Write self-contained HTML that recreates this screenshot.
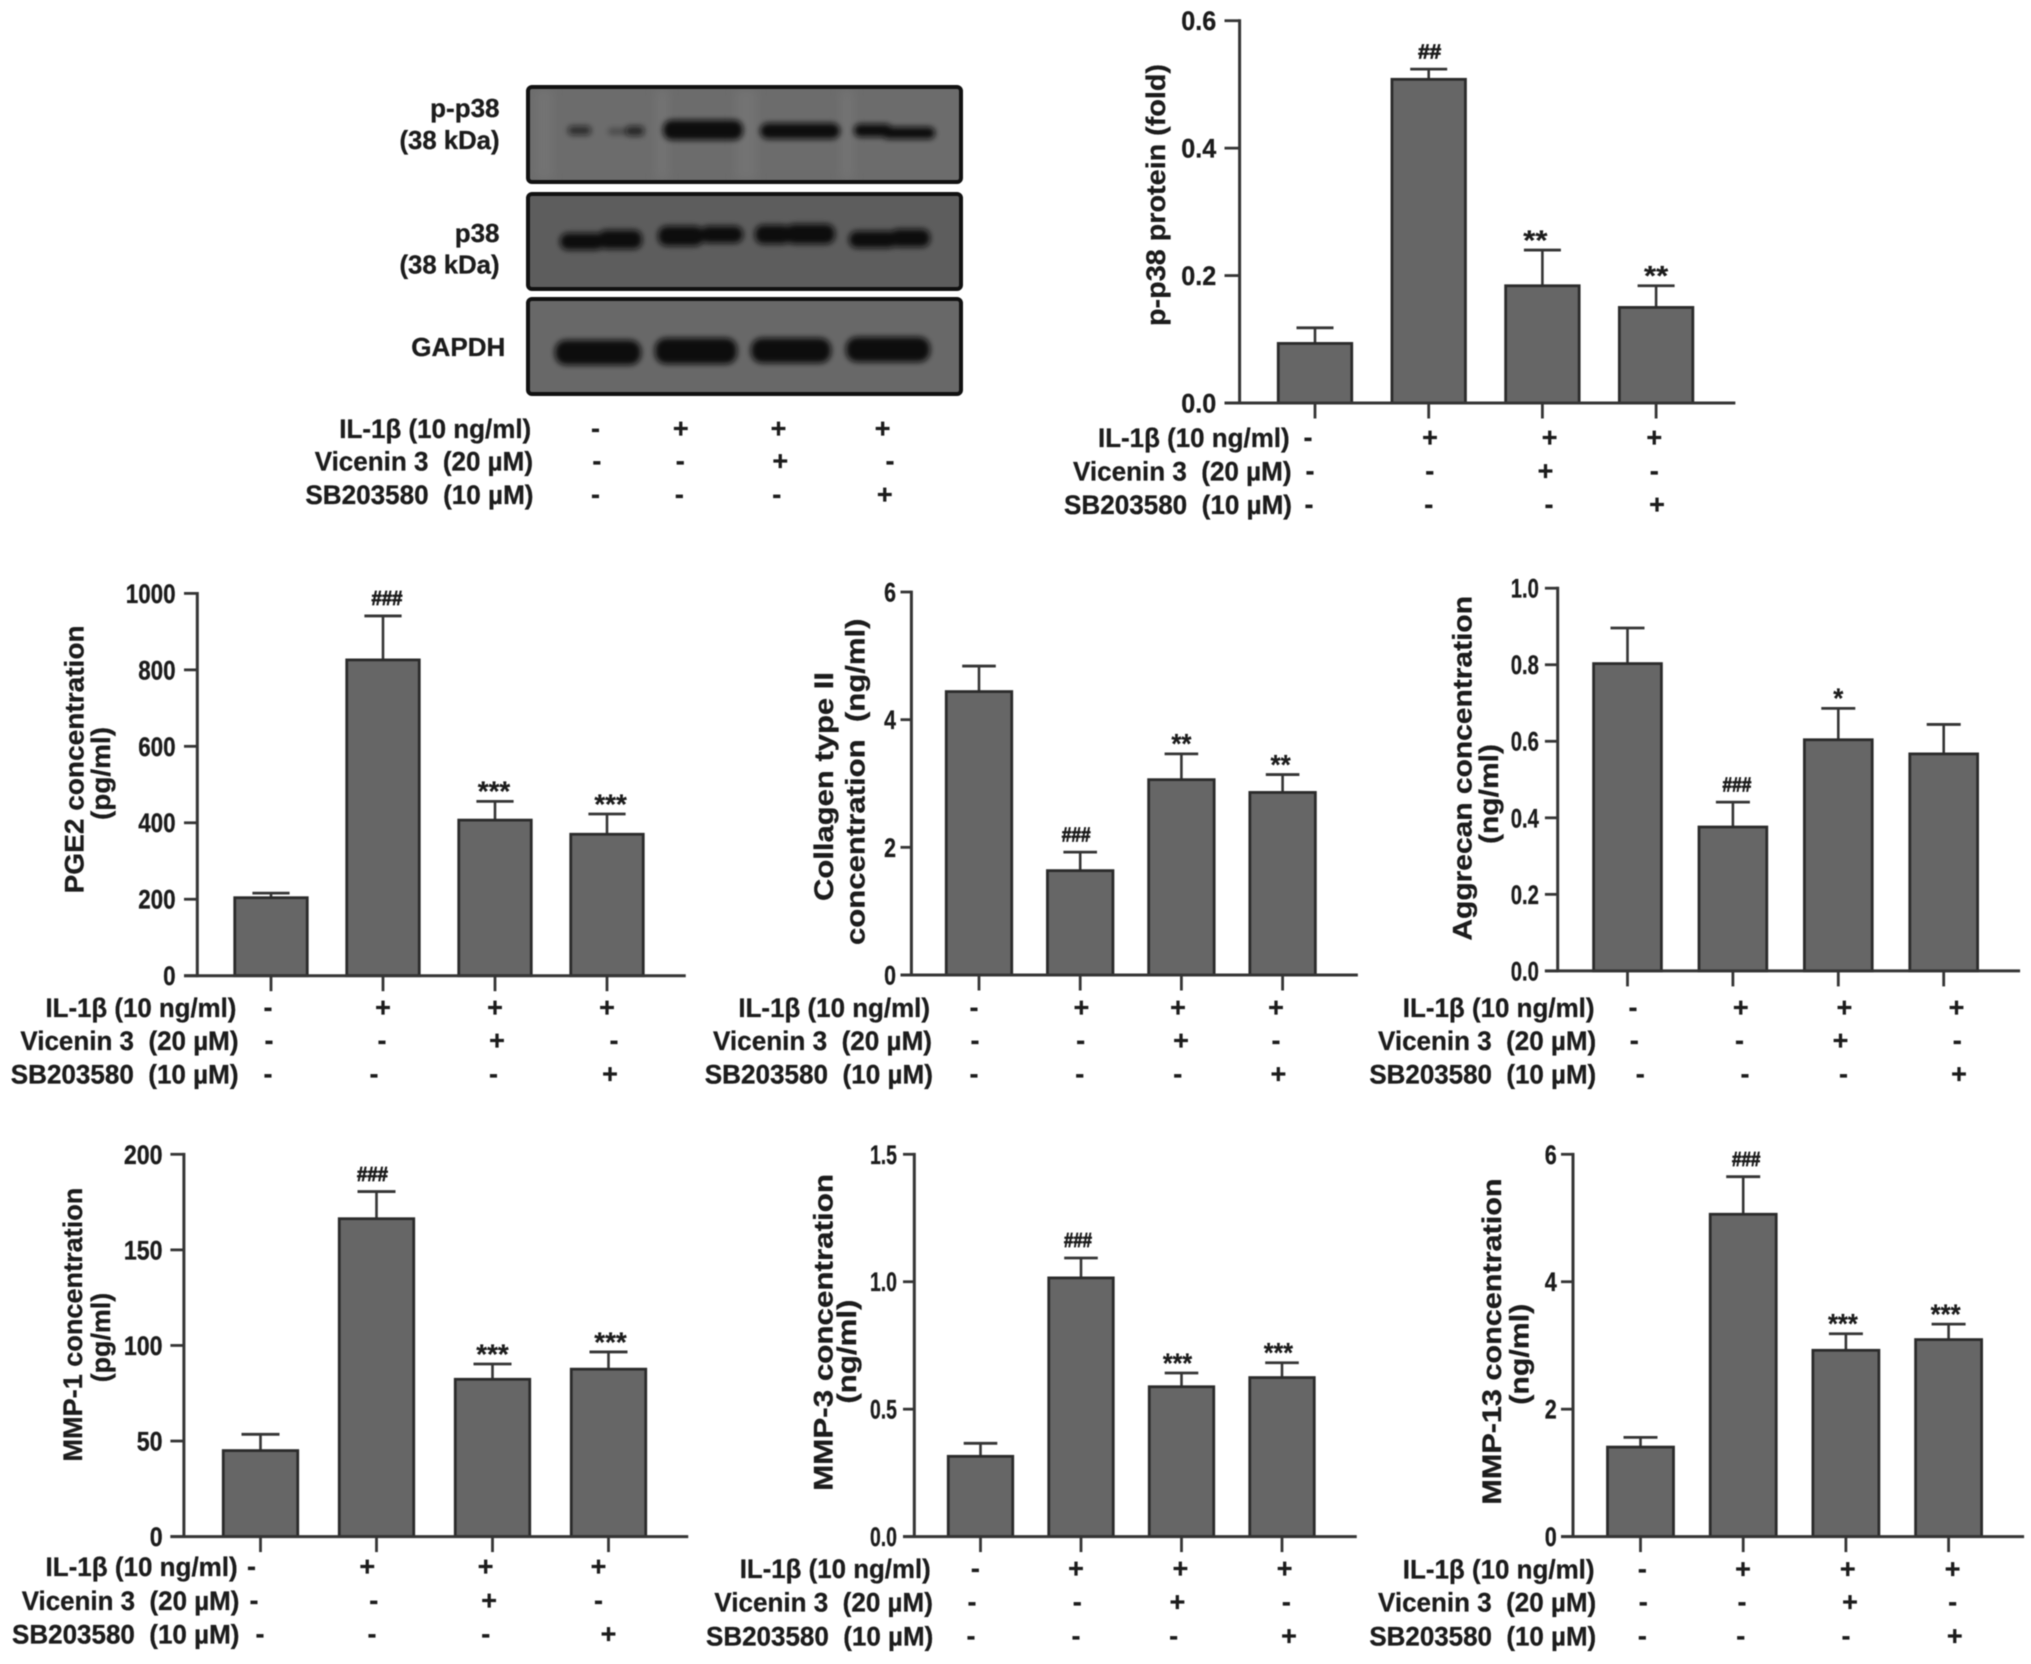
<!DOCTYPE html>
<html lang="en">
<head>
<meta charset="utf-8">
<title>Vicenin 3 western blot and ELISA bar charts</title>
<style>
html,body{margin:0;padding:0;background:#fff;}
#figure{position:absolute;left:0;top:0;width:2031px;height:1664px;display:block;filter:blur(.6px);}
text{font-family:"Liberation Sans","DejaVu Sans",sans-serif;font-weight:700;fill:#1c1c1c;stroke:#1c1c1c;stroke-width:.3px;white-space:pre;}
</style>
</head>
<body>
<svg id="figure" xmlns="http://www.w3.org/2000/svg" width="2031" height="1664" viewBox="0 0 2031 1664">
  <defs>
    <filter id="bandBlur" x="-30%" y="-80%" width="160%" height="260%"><feGaussianBlur stdDeviation="3"/></filter>
    <filter id="streakBlur" x="-50%" y="-10%" width="200%" height="120%"><feGaussianBlur stdDeviation="5"/></filter>
    <clipPath id="blotClip1"><rect x="530" y="89" width="429" height="91" rx="3"/></clipPath>
    <clipPath id="blotClip2"><rect x="530" y="196" width="429" height="91" rx="3"/></clipPath>
    <clipPath id="blotClip3"><rect x="530" y="301" width="429" height="91" rx="3"/></clipPath>
  </defs>
  <rect width="2031" height="1664" fill="#fff"/>
  <g>
    <g>
      <rect x="528" y="87" width="433" height="95" rx="4" fill="#6c6c6c" stroke="#111" stroke-width="4"/>
      <g clip-path="url(#blotClip1)">
        <g filter="url(#streakBlur)" fill="#828282" opacity=".35">
          <rect x="655" y="89" width="14" height="91"/>
          <rect x="735" y="89" width="22" height="91"/>
          <rect x="840" y="89" width="14" height="91"/>
          <rect x="535" y="89" width="18" height="91"/>
        </g>
        <g filter="url(#bandBlur)" fill="#0e0e0e">
          <rect x="568" y="126" width="23" height="9" rx="4" opacity=".7"/>
          <rect x="608" y="128" width="22" height="7" rx="3" opacity=".3"/>
          <rect x="626" y="126" width="18" height="10" rx="4" opacity=".75"/>
          <rect x="663" y="120" width="80" height="20" rx="9"/>
          <rect x="760" y="123" width="80" height="16" rx="8"/>
          <rect x="854" y="124" width="38" height="13" rx="6"/>
          <rect x="882" y="127" width="53" height="12" rx="6"/>
        </g>
      </g>
    </g>
    <g>
      <rect x="528" y="194" width="433" height="95" rx="4" fill="#5d5d5d" stroke="#111" stroke-width="4"/>
      <g clip-path="url(#blotClip2)">
        <g filter="url(#bandBlur)" fill="#0e0e0e">
          <rect x="560" y="233" width="44" height="17" rx="8"/>
          <rect x="598" y="230" width="44" height="19" rx="8"/>
          <rect x="658" y="226" width="46" height="20" rx="9"/>
          <rect x="700" y="226" width="43" height="17" rx="8"/>
          <rect x="755" y="225" width="36" height="19" rx="8"/>
          <rect x="785" y="224" width="50" height="20" rx="9"/>
          <rect x="849" y="231" width="48" height="17" rx="8"/>
          <rect x="890" y="229" width="40" height="18" rx="8"/>
        </g>
      </g>
    </g>
    <g>
      <rect x="528" y="299" width="433" height="95" rx="4" fill="#686868" stroke="#111" stroke-width="4"/>
      <g clip-path="url(#blotClip3)">
        <g filter="url(#bandBlur)" fill="#0a0a0a">
          <rect x="555" y="340" width="86" height="25" rx="11"/>
          <rect x="655" y="338" width="82" height="26" rx="11"/>
          <rect x="751" y="338" width="80" height="25" rx="11"/>
          <rect x="846" y="337" width="84" height="25" rx="11"/>
        </g>
      </g>
    </g>
    <text x="499.5" y="108" dy=".35em" text-anchor="end" font-size="26">p-p38</text>
    <text x="499.5" y="140" dy=".35em" text-anchor="end" font-size="26" textLength="100" lengthAdjust="spacingAndGlyphs">(38 kDa)</text>
    <text x="499.5" y="233" dy=".35em" text-anchor="end" font-size="26">p38</text>
    <text x="499.5" y="264.5" dy=".35em" text-anchor="end" font-size="26" textLength="100" lengthAdjust="spacingAndGlyphs">(38 kDa)</text>
    <text x="505.3" y="346.8" dy=".35em" text-anchor="end" font-size="26" textLength="94" lengthAdjust="spacingAndGlyphs">GAPDH</text>
  </g>
  <g id="blotRows"></g>
  <g id="charts"></g>
</svg>
<script>
// Shared treatment table
const categories = ['Control', 'IL-1β', 'IL-1β + Vicenin 3', 'IL-1β + SB203580'];
const rowLabels = ['IL-1β (10 ng/ml)', 'Vicenin 3  (20 µM)', 'SB203580  (10 µM)'];
const il1bSigns = ['-', '+', '+', '+'];
const viceninSigns = ['-', '-', '+', '-'];
const sb203580Signs = ['-', '-', '-', '+'];

// p-p38 protein (fold)
const p38Ticks = ['0.0', '0.2', '0.4', '0.6'];
const p38Values = [0.0935, 0.508, 0.184, 0.150];
const p38Errors = [0.0245, 0.016, 0.056, 0.034];
const p38Marks = ['', '##', '**', '**'];

// PGE2 (pg/ml)
const pge2Ticks = ['0', '200', '400', '600', '800', '1000'];
const pge2Values = [204, 826, 407, 370];
const pge2Errors = [12, 115, 49, 53];
const pge2Marks = ['', '###', '***', '***'];

// Collagen type II (ng/ml)
const collagenTicks = ['0', '2', '4', '6'];
const collagenValues = [4.44, 1.635, 3.06, 2.86];
const collagenErrors = [0.40, 0.29, 0.404, 0.28];
const collagenMarks = ['', '###', '**', '**'];

// Aggrecan (ng/ml)
const aggrecanTicks = ['0.0', '0.2', '0.4', '0.6', '0.8', '1.0'];
const aggrecanValues = [0.803, 0.376, 0.604, 0.567];
const aggrecanErrors = [0.093, 0.065, 0.082, 0.077];
const aggrecanMarks = ['', '###', '*', ''];

// MMP-1 (pg/ml)
const mmp1Ticks = ['0', '50', '100', '150', '200'];
const mmp1Values = [45, 166.3, 82.3, 87.6];
const mmp1Errors = [8.5, 14.2, 8, 9];
const mmp1Marks = ['', '###', '***', '***'];

// MMP-3 (ng/ml)
const mmp3Ticks = ['0.0', '0.5', '1.0', '1.5'];
const mmp3Values = [0.315, 1.015, 0.588, 0.624];
const mmp3Errors = [0.051, 0.078, 0.054, 0.058];
const mmp3Marks = ['', '###', '***', '***'];

// MMP-13 (ng/ml)
const mmp13Ticks = ['0', '2', '4', '6'];
const mmp13Values = [1.405, 5.059, 2.924, 3.092];
const mmp13Errors = [0.152, 0.59, 0.26, 0.243];
const mmp13Marks = ['', '###', '***', '***'];

// Layout (geometry only, kept apart from the data above)
const charts = [
  {id:'p38', ticks:p38Ticks, values:p38Values, errors:p38Errors, marks:p38Marks,
   geo:{axisX:1239.6, y0:403, yTop:20.7, tickLeft:1224.5, c0:1315, step:113.7, barW:76.5, cap:18.5, tickRight:1216.2, tickScale:.93, markChar:11.5, markDx:[0,1,-7,0]},
   titles:[{text:'p-p38 protein (fold)', x:1155.6, a:64, b:326}],
   rowY:[437.5,471,504.5], rowX:[[1098,1289.6],[1073,1291.5],[1064,1292]],
   signX:[[1308,1430,1549.6,1654.3],[1310,1429.8,1545.5,1654.3],[1309,1428.8,1549,1657]]},
  {id:'pge2', ticks:pge2Ticks, values:pge2Values, errors:pge2Errors, marks:pge2Marks,
   geo:{axisX:197.3, y0:975.7, yTop:593.4, tickLeft:184, c0:271, step:112, barW:75.5, cap:18.6, tickRight:175.6, tickScale:.83, markChar:10.3, markDx:[0,4,-1,3.6]},
   titles:[{text:'PGE2 concentration', x:74, a:625.4, b:893.4},{text:'(pg/ml)', x:100.6, a:727, b:820}],
   rowY:[1007.5,1040.5,1074], rowX:[[45.5,236.4],[20.4,238.5],[10.8,238.5]],
   signX:[[268,383,495,607],[269,382,497,614],[268,374,493.5,610]]},
  {id:'collagen', ticks:collagenTicks, values:collagenValues, errors:collagenErrors, marks:collagenMarks,
   geo:{axisX:911.4, y0:975, yTop:592, tickLeft:900.5, c0:979, step:101.2, barW:68.5, cap:16.8, tickRight:896, tickScale:.79, markChar:9.6, markDx:[0,-4,0,-2]},
   titles:[{text:'Collagen type II', x:823.8, a:672, b:901},{text:'concentration  (ng/ml)', x:855, a:618.5, b:945}],
   rowY:[1007.5,1040.5,1074], rowX:[[738.4,930],[713,932],[704.7,933]],
   signX:[[974,1081.4,1178,1276],[975,1080.6,1181,1276],[974,1079.8,1177.8,1278.4]]},
  {id:'aggrecan', ticks:aggrecanTicks, values:aggrecanValues, errors:aggrecanErrors, marks:aggrecanMarks,
   geo:{axisX:1557.7, y0:970.9, yTop:588.2, tickLeft:1544.9, c0:1627.5, step:105.4, barW:70.8, cap:17, tickRight:1538.9, tickScale:.75, markChar:9.6, markDx:[0,4,0,0]},
   titles:[{text:'Aggrecan concentration', x:1461.8, a:596, b:940.6},{text:'(ng/ml)', x:1488.4, a:744, b:844}],
   rowY:[1007.5,1040.5,1074], rowX:[[1402.8,1594.5],[1378,1596.2],[1369.4,1596.2]],
   signX:[[1633,1740.8,1844.4,1956.5],[1634.3,1739.5,1840.5,1957.3],[1640.3,1745,1843.5,1959]]},
  {id:'mmp1', ticks:mmp1Ticks, values:mmp1Values, errors:mmp1Errors, marks:mmp1Marks,
   geo:{axisX:183.9, y0:1536.6, yTop:1154.3, tickLeft:170.4, c0:260.5, step:116, barW:77.5, cap:19, tickRight:162.6, tickScale:.86, markChar:10.3, markDx:[0,-4,0,2]},
   titles:[{text:'MMP-1 concentration', x:72.4, a:1187.7, b:1461.5},{text:'(pg/ml)', x:100.6, a:1292.8, b:1382.3}],
   rowY:[1566.5,1600.5,1634], rowX:[[45.5,237.7],[21.7,239.4],[12,239.4]],
   signX:[[251.5,367.3,485.7,598.5],[254,373.8,489.2,598.5],[260,372,485.7,608.5]]},
  {id:'mmp3', ticks:mmp3Ticks, values:mmp3Values, errors:mmp3Errors, marks:mmp3Marks,
   geo:{axisX:914.3, y0:1536.6, yTop:1154.3, tickLeft:903, c0:980.5, step:100.5, barW:67.5, cap:16.8, tickRight:897, tickScale:.72, markChar:9.3, markDx:[0,-3,-4,-3.6]},
   titles:[{text:'MMP-3 concentration', x:823, a:1174, b:1490.8},{text:'(ng/ml)', x:846.6, a:1299.6, b:1403.6}],
   rowY:[1568.5,1602,1636], rowX:[[739.7,930.8],[714.4,932.9],[706,933.3]],
   signX:[[975.4,1076,1180.4,1284.7],[972,1077.2,1177.4,1286.4],[971,1076,1173.6,1289]]},
  {id:'mmp13', ticks:mmp13Ticks, values:mmp13Values, errors:mmp13Errors, marks:mmp13Marks,
   geo:{axisX:1573, y0:1536.6, yTop:1154.3, tickLeft:1561, c0:1640.5, step:102.7, barW:69, cap:17, tickRight:1556.8, tickScale:.8, markChar:9.5, markDx:[0,3,-3,-3]},
   titles:[{text:'MMP-13 concentration', x:1491.8, a:1178.4, b:1504.6},{text:'(ng/ml)', x:1519.2, a:1303.8, b:1404.7}],
   rowY:[1569,1602,1636], rowX:[[1402.8,1594.5],[1378,1596.2],[1369.4,1596.2]],
   signX:[[1642.4,1743,1847.8,1952.6],[1643.3,1742,1850,1952.6],[1642.4,1740.8,1846,1954.8]]}
];

const blotTable = {
  rowY:[428.5,461,494.5], rowX:[[339.3,531.2],[314.7,533],[305.4,533.5]],
  signX:[[595.5,680.8,778.5,882.6],[596.9,680.3,780.3,890],[595.5,679.4,776.8,884.8]]
};

const SVG_NS = 'http://www.w3.org/2000/svg';
const AXIS = '#353535', BAR_FILL = '#666666', BAR_EDGE = '#2b2b2b';

function add(parent, tag, attrs, content) {
  const el = document.createElementNS(SVG_NS, tag);
  Object.keys(attrs).forEach(function (k) { el.setAttribute(k, attrs[k]); });
  if (content !== undefined) el.textContent = content;
  parent.appendChild(el);
  return el;
}

function line(parent, x1, y1, x2, y2, color, width) {
  return add(parent, 'line', {x1:x1, y1:y1, x2:x2, y2:y2, stroke:color, 'stroke-width':width});
}

function drawRows(parent, id, table) {
  const signRows = [il1bSigns, viceninSigns, sb203580Signs];
  rowLabels.forEach(function (label, r) {
    const span = table.rowX[r];
    const t = add(parent, 'text', {x:span[0], y:table.rowY[r], dy:'.35em', 'font-size':26.5,
      textLength:span[1] - span[0], lengthAdjust:'spacingAndGlyphs'}, label);
    
    
    signRows[r].forEach(function (sign, c) {
      const s = add(parent, 'text', {x:table.signX[r][c], y:table.rowY[r], dy:'.33em', 'font-size':27, 'text-anchor':'middle'}, sign);
      
      
    });
  });
}

function drawChart(chart) {
  const root = document.getElementById('charts');
  const geo = chart.geo;
  const g = add(root, 'g', {});
  
  

  const maxTick = Number(chart.ticks[chart.ticks.length - 1]);
  const yScale = function (v) { return geo.y0 - (v / maxTick) * (geo.y0 - geo.yTop); };
  const xScale = function (i) { return geo.c0 + i * geo.step; };
  const lastRight = xScale(categories.length - 1) + geo.barW / 2;

  categories.forEach(function (cat, i) {
    const cx = xScale(i);
    const top = yScale(chart.values[i]);
    const errTop = yScale(chart.values[i] + chart.errors[i]);

    const eb = line(g, cx, top, cx, errTop, AXIS, 2.6);
    
    

    const cap = line(g, cx - geo.cap, errTop, cx + geo.cap, errTop, AXIS, 2.8);
    
    

    const bar = add(g, 'rect', {x:cx - geo.barW / 2 + 1.5, y:top, width:geo.barW - 3, height:geo.y0 - top,
      fill:BAR_FILL, stroke:BAR_EDGE, 'stroke-width':2.8});
    
    

    const tick = line(g, cx, geo.y0, cx, geo.y0 + 15.5, AXIS, 2.8);
    
    

    const mark = chart.marks[i];
    if (mark) {
      const isStar = mark.charAt(0) === '*';
      const fs = isStar ? 28 : 20;
      const m = add(g, 'text', {x:cx + geo.markDx[i], y:errTop - 18, dy:isStar ? '.62em' : '.36em',
        'font-size':fs, 'text-anchor':'middle', textLength:geo.markChar * mark.length * (isStar ? 1.05 : 1),
        lengthAdjust:'spacingAndGlyphs', 'stroke-width':isStar ? 0.2 : 0.8}, mark);
      
      
      m.style.strokeWidth = isStar ? '.2px' : '.8px';
    }
  });

  const yAxis = line(g, geo.axisX, geo.yTop - 1.4, geo.axisX, geo.y0 + 1.4, AXIS, 3);
  
  

  const xAxis = line(g, geo.tickLeft, geo.y0, lastRight + 41, geo.y0, AXIS, 3);
  
  

  chart.ticks.forEach(function (label, i) {
    const y = yScale(Number(label));
    const t = line(g, geo.tickLeft, y, geo.axisX, y, AXIS, 2.8);
    
    
    const fs = 27;
    const natural = 0.556 * fs * label.replace('.', '').length + (label.indexOf('.') >= 0 ? 0.278 * fs : 0);
    const txt = add(g, 'text', {x:geo.tickRight, y:y, dy:'.35em', 'font-size':fs, 'text-anchor':'end',
      textLength:natural * geo.tickScale, lengthAdjust:'spacingAndGlyphs'}, label);
    
    
  });

  chart.titles.forEach(function (title, i) {
    const cy = (title.a + title.b) / 2;
    const t = add(g, 'text', {x:title.x, y:cy, dy:'.35em', 'font-size':27, 'text-anchor':'middle',
      transform:'rotate(-90 ' + title.x + ' ' + cy + ')', textLength:title.b - title.a,
      lengthAdjust:'spacingAndGlyphs'}, title.text);
    
    
  });

  drawRows(g, chart.id, chart);
}

charts.forEach(drawChart);
drawRows(document.getElementById('blotRows'), 'blot', blotTable);
</script>
</body>
</html>
